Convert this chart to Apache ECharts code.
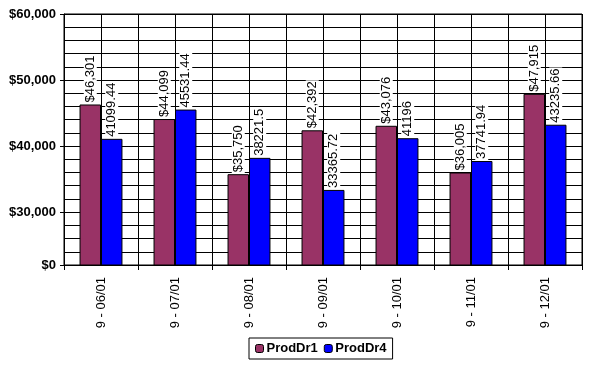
<!DOCTYPE html>
<html><head><meta charset="utf-8">
<script src="https://cdn.jsdelivr.net/npm/echarts@6/dist/echarts.min.js"></script>
<style>html,body{margin:0;padding:0;background:#fff}#c{width:600px;height:371px}</style>
</head><body><div id="c"></div>
<script>
const categories = ['9 - 06/01','9 - 07/01','9 - 08/01','9 - 09/01','9 - 10/01','9 - 11/01','9 - 12/01'];
const prodDr1 = [46301, 44099, 35750, 42392, 43076, 36005, 47915];
const prodDr4 = [41099.44, 45531.44, 38221.5, 33365.72, 41196, 37741.94, 43235.66];
const yLabelValues = [22000, 30000, 40000, 50000, 60000];
const yLabelTexts = ['$0', '$30,000', '$40,000', '$50,000', '$60,000'];

const FONT = 'Liberation Sans, Arial, sans-serif';
const chart = echarts.init(document.getElementById('c'), null, {renderer:'canvas'});
const money = v => '$' + Math.round(v).toLocaleString('en-US');
const labelBase = {
  show: true, position: 'top', rotate: 90, align: 'left', verticalAlign: 'middle',
  distance: 1, color: '#000', fontFamily: FONT, fontSize: 13,
  backgroundColor: '#fff', padding: [0, 1, 0, 1]
};
chart.setOption({
  animation: false,
  backgroundColor: '#fff',
  grid: { left: 64, right: 18, top: 14, bottom: 106, show: true, borderColor: '#000', borderWidth: 1 },
  legend: {
    bottom: 12, left: 249, itemWidth: 8, itemHeight: 8, itemGap: 6,
    borderColor: '#000', borderWidth: 1, padding: [4, 6, 4, 6],
    textStyle: { fontFamily: FONT, fontSize: 13, fontWeight: 'bold', color: '#000', padding: [0,0,0,-2] },
    data: [{name:'ProdDr1', itemStyle:{borderColor:'#000', borderWidth:1}}, {name:'ProdDr4', itemStyle:{borderColor:'#000', borderWidth:1}}]
  },
  xAxis: [{
    type: 'category', data: categories,
    axisLine: { lineStyle: { color: '#000' } },
    axisTick: { show: true, length: 5, lineStyle: { color: '#000' } },
    axisLabel: { rotate: 90, margin: 12, color: '#000', fontFamily: FONT, fontSize: 13 },
    splitLine: { show: true, interval: 0, lineStyle: { color: '#000' } }
  }, {
    type: 'value', min: 0, max: 14, interval: 1, position: 'top',
    axisLine: { show: false }, axisTick: { show: false }, axisLabel: { show: false },
    splitLine: { show: true, lineStyle: { color: '#000' } }
  }],
  yAxis: [{
    type: 'value', min: 22000, max: 60000, interval: 2000,
    axisLine: { show: true, lineStyle: { color: '#000' } },
    axisTick: { show: false },
    axisLabel: { show: false },
    splitLine: { show: true, lineStyle: { color: '#000' } }
  }, {
    type: 'value', min: 22000, max: 60000, position: 'left',
    axisLine: { show: false },
    axisTick: { show: true, length: 4, customValues: yLabelValues, lineStyle: { color: '#000' } },
    axisLabel: { customValues: yLabelValues, margin: 8, color: '#000', fontFamily: FONT, fontSize: 13, fontWeight: 'bold',
      formatter: v => yLabelTexts[yLabelValues.indexOf(v)] ?? '' },
    splitLine: { show: false }
  }],
  series: [{
    name: 'ProdDr1', type: 'bar', data: prodDr1, barGap: '0%', barCategoryGap: '42%',
    itemStyle: { color: '#993366', borderColor: '#000', borderWidth: 1 },
    label: Object.assign({}, labelBase, { formatter: p => money(p.value) })
  }, {
    name: 'ProdDr4', type: 'bar', data: prodDr4,
    itemStyle: { color: '#0000FF', borderColor: '#000', borderWidth: 1 },
    label: Object.assign({}, labelBase, { formatter: p => String(p.value) })
  }]
});
</script></body></html>
